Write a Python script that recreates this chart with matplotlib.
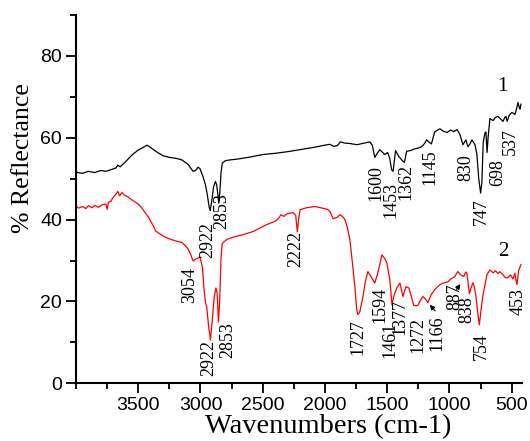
import matplotlib
matplotlib.use("Agg")
import matplotlib.pyplot as plt
from matplotlib.ticker import MultipleLocator

# spectrum 1 (black): wavenumber, % reflectance
wn1 = [4000, 3950, 3900, 3850, 3800, 3760, 3720, 3680, 3665, 3645, 3600, 3550,
       3500, 3450, 3430, 3400, 3350, 3300, 3250, 3200, 3150, 3100, 3060, 3040,
       3020, 3005, 2980, 2960, 2945, 2930, 2922, 2910, 2895, 2880, 2870, 2860,
       2853, 2845, 2835, 2825, 2800, 2760, 2700, 2600, 2500, 2400, 2300, 2200,
       2100, 2000, 1960, 1930, 1900, 1877, 1840, 1800, 1744, 1700, 1640, 1620,
       1600, 1580, 1560, 1520, 1497, 1480, 1465, 1453, 1433, 1409, 1376, 1362,
       1344, 1310, 1278, 1250, 1224, 1200, 1183, 1159, 1145, 1119, 1100, 1077,
       1050, 1020, 990, 965, 940, 916, 892, 868, 852, 835, 820, 795, 780, 765,
       750, 740, 729, 715, 707, 698, 690, 675, 650, 630, 610, 590, 570, 555,
       546, 537, 520, 498, 474, 460, 450, 440, 434, 426]
r1 = [51.6, 51.3, 51.8, 51.5, 52.0, 51.8, 52.2, 52.6, 53.3, 52.9, 54.2, 55.8,
      57.0, 57.8, 58.2, 57.6, 56.5, 55.6, 55.2, 55.0, 54.6, 53.5, 51.8, 52.0,
      52.8, 52.5, 50.5, 48.5, 46.0, 43.0, 42.2, 44.5, 48.0, 49.3, 48.5, 46.0,
      44.0, 46.5, 51.5, 53.8, 54.4, 54.6, 54.8, 55.3, 55.9, 56.2, 56.6, 57.1,
      57.6, 58.2, 58.4, 57.9, 58.1, 59.0, 58.7, 58.6, 58.3, 58.6, 59.0, 58.2,
      55.2, 56.2, 57.1, 55.9, 56.4, 55.0, 52.2, 51.8, 56.9, 55.5, 54.3, 54.0,
      56.7, 56.9, 57.3, 57.5, 57.8, 58.6, 59.5, 58.8, 58.5, 61.4, 61.8, 62.2,
      61.6, 61.3, 61.9, 61.5, 62.0, 60.8, 58.3, 59.5, 57.8, 58.5, 59.5, 58.3,
      56.0, 50.0, 46.5, 49.0, 58.8, 61.2, 61.4, 56.4, 60.0, 64.7, 64.2, 65.0,
      65.2, 64.6, 64.0, 65.0, 65.2, 64.0, 65.5, 66.2, 65.7, 67.2, 68.6, 67.5,
      67.0, 68.2]

# spectrum 2 (red)
wn2 = [4000, 3980, 3950, 3920, 3900, 3870, 3850, 3820, 3790, 3760, 3750, 3740,
       3720, 3700, 3680, 3665, 3650, 3630, 3610, 3590, 3560, 3530, 3500, 3470,
       3440, 3420, 3400, 3380, 3360, 3340, 3300, 3260, 3230, 3200, 3150, 3120,
       3100, 3080, 3060, 3040, 3020, 3005, 2985, 2970, 2960, 2950, 2935, 2920,
       2905, 2890, 2876, 2866, 2856, 2846, 2835, 2826, 2786, 2738, 2650, 2577,
       2524, 2466, 2400, 2370, 2355, 2330, 2300, 2256, 2235, 2222, 2210, 2200,
       2150, 2080, 2020, 1980, 1960, 1935, 1900, 1880, 1860, 1840, 1820, 1800,
       1780, 1760, 1745, 1735, 1720, 1695, 1675, 1655, 1630, 1600, 1580, 1560,
       1543, 1520, 1503, 1479, 1462, 1445, 1423, 1398, 1374, 1350, 1326, 1300,
       1286, 1254, 1230, 1213, 1190, 1173, 1150, 1120, 1100, 1077, 1050, 1013,
       990, 960, 933, 910, 885, 870, 860, 848, 840, 825, 811, 800, 787, 772,
       760, 748, 733, 715, 700, 675, 650, 630, 610, 595, 570, 550, 531, 510,
       490, 474, 465, 458, 445, 426]
r2 = [43.3, 42.8, 43.2, 42.7, 43.4, 42.9, 43.5, 43.0, 43.6, 43.8, 42.5, 44.2,
      44.5, 45.5, 46.2, 46.9, 45.8, 46.6, 45.9, 45.7, 45.0, 44.4, 43.8, 42.8,
      41.5, 40.7, 39.6, 38.5, 37.2, 36.8, 36.0, 35.4, 35.1, 34.8, 34.4, 33.6,
      32.8, 31.6, 29.9, 30.3, 30.6, 30.9, 28.5, 22.5, 19.7, 18.7, 14.0, 10.6,
      15.5, 21.0, 23.3, 22.0, 15.0, 20.0, 30.5, 34.2, 35.2, 35.7, 36.4, 37.1,
      37.9, 38.8, 39.6, 40.4, 41.2, 40.8, 41.5, 41.7, 41.0, 37.0, 40.5, 42.4,
      42.9, 43.2, 42.8, 42.5, 42.0, 40.2, 40.6, 41.2, 40.8, 40.0, 38.0, 35.1,
      29.5, 23.6, 18.0, 16.8, 17.5, 21.2, 25.0, 27.3, 26.0, 24.5, 26.5, 29.0,
      31.4, 30.5, 29.4, 25.3, 19.2, 21.5, 23.3, 24.5, 21.2, 23.6, 23.3, 20.5,
      19.0, 19.0, 20.5, 21.2, 20.5, 19.7, 21.5, 22.8, 23.5, 24.1, 24.5, 24.8,
      25.5, 26.0, 27.3, 26.5, 26.1, 27.2, 26.9, 24.0, 21.9, 23.5, 24.6, 23.5,
      21.2, 17.0, 14.3, 17.5, 21.2, 24.0, 26.5, 27.7, 27.0, 27.5, 26.8, 27.3,
      26.5, 25.8, 25.8, 26.5, 25.5, 26.9, 25.0, 24.1, 27.5, 29.0]

# peak labels: text, x, y
labels1 = [("2922", 2940, 35.1), ("2853", 2828, 42.0), ("1600", 1590, 49.0),
           ("1453", 1470, 44.9), ("1362", 1349, 49.3), ("1145", 1157, 52.7),
           ("830", 867, 52.7), ("747", 747, 42.0), ("698", 610, 51.5),
           ("537", 514, 59.1)]
labels2 = [("3054", 3085, 24.1), ("2922", 2930, 6.2), ("2853", 2779, 10.6),
           ("2222", 2233, 32.7), ("1727", 1735, 11.4), ("1594", 1559, 19.2),
           ("1461", 1479, 10.6), ("1377", 1399, 16.2), ("1272", 1254, 11.8),
           ("1166", 1100, 12.3), ("887", 956, 21.1), ("838", 860, 17.9),
           ("754", 747, 9.1), ("453", 450, 20.1)]

xticks = [3500, 3000, 2500, 2000, 1500, 1000, 500]
yticks = [0, 20, 40, 60, 80]

serif = "Liberation Serif"
plt.rcParams["font.family"] = "Liberation Sans"

fig = plt.figure(figsize=(5.3, 4.41), dpi=100)
ax = fig.add_axes([0.1434, 0.1308, 0.8409, 0.8352])

ax.plot(wn1, r1, color="black", lw=0.9)
ax.plot(wn2, r2, color="red", lw=0.9)

for t, x, y in labels1 + labels2:
    ax.text(x, y, t, rotation=90, ha="center", va="center",
            fontsize=13, family=serif)

ax.text(578, 72.6, "1", ha="center", va="center", fontsize=15, family=serif)
ax.text(571, 32.2, "2", ha="center", va="center", fontsize=15, family=serif)

arr = dict(arrowstyle="-|>", color="black", lw=0.8, mutation_scale=7)
ax.annotate("", xy=(1173, 19.7), xytext=(1100, 17.2), arrowprops=arr)
ax.annotate("", xy=(900, 24.8), xytext=(956, 22.4), arrowprops=arr)

ax.set_xlim(4000, 420)
ax.set_ylim(0, 90)
ax.set_xticks(xticks)
ax.xaxis.set_minor_locator(MultipleLocator(250))
ax.set_yticks(yticks)
ax.yaxis.set_minor_locator(MultipleLocator(10))

for s in ["top", "right"]:
    ax.spines[s].set_visible(False)
for s in ["left", "bottom"]:
    ax.spines[s].set_linewidth(1.5)
ax.tick_params(which="major", length=7, width=1.3, labelsize=14, pad=3)
ax.tick_params(which="minor", length=4, width=1.3)

fig.text(328 / 530, 1 - 427 / 441, "Wavenumbers (cm-1)", ha="center",
         va="center", fontsize=20.5, family=serif)
fig.text(23 / 530, 1 - 158 / 441, "% Reflectance", ha="center", va="center",
         rotation=90, fontsize=18.5, family=serif)

fig.savefig("out.png", dpi=100)
